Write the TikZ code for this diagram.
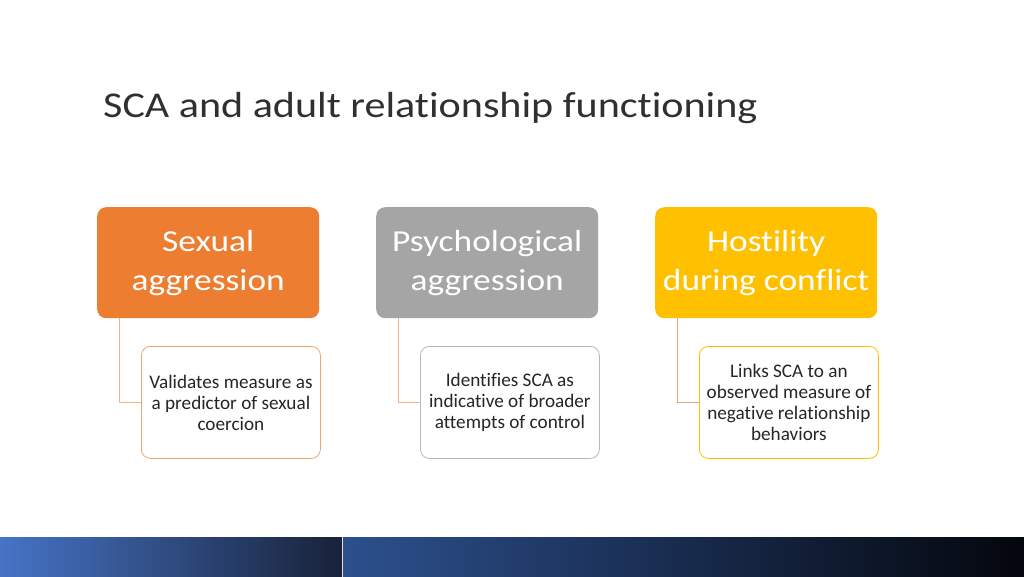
\documentclass[tikz,border=0pt]{standalone}
\usepackage{fontspec}
\setmainfont[Ligatures=NoCommon]{Carlito}
\newfontfamily\widefont[FakeStretch=1.16, Ligatures=NoCommon]{Carlito}
\definecolor{orangeA}{HTML}{ED7D31}
\definecolor{greyA}{HTML}{A5A5A5}
\definecolor{goldA}{HTML}{FFC000}
\definecolor{lineA}{HTML}{F4B183}
\definecolor{titleC}{HTML}{303030}
\definecolor{textC}{HTML}{262626}
\definecolor{barAL}{RGB}{70,116,198}
\definecolor{barAR}{RGB}{24,34,58}
\definecolor{barBL}{RGB}{44,80,142}
\definecolor{barBR}{RGB}{4,6,12}
\begin{document}
\begin{tikzpicture}[x=1pt,y=-1pt,
  headbox/.style={rounded corners=9pt, minimum width=222pt, minimum height=111pt, inner sep=0pt,
    text=white, align=center, font=\widefont\fontsize{30.5}{39}\selectfont, anchor=north west},
  subbox/.style={rounded corners=9pt, fill=white, minimum width=179pt, minimum height=112pt, inner sep=0pt,
    text=textC, align=center, font=\fontsize{19.2}{21}\selectfont, anchor=north west, line width=0.8pt},
  link/.style={draw=lineA, line width=1pt}]
\useasboundingbox (0,0) rectangle (1024,576);
\fill[white] (0,0) rectangle (1024,576);
% title
\node[anchor=base west, inner sep=0pt, text=titleC, font=\widefont\fontsize{36.3}{40}\selectfont] (title) at (103,117) {SCA and adult relationship functioning};
% head boxes
\node[headbox, fill=orangeA] (h1) at (97,207) {Sexual\\aggression};
\node[headbox, fill=greyA] (h2) at (376,207) {Psychological\\aggression};
\node[headbox, fill=goldA] (h3) at (655,207) {Hostility\\during conflict};
% sub boxes
\node[subbox, draw=orangeA!70] (s1) at (141,346) {Validates measure as\\a predictor of sexual\\coercion};
\node[subbox, draw=greyA!80] (s2) at (420,346) {Identifies SCA as\\indicative of broader\\attempts of control};
\node[subbox, draw=goldA] (s3) at (699,346) {Links SCA to an\\observed measure of\\negative relationship\\behaviors};
% connectors
\coordinate (c1) at ([xshift=22pt]h1.south west);
\coordinate (c2) at ([xshift=22pt]h2.south west);
\coordinate (c3) at ([xshift=22pt]h3.south west);
\draw[link] (c1) |- (s1.west);
\draw[link] (c2) |- (s2.west);
\draw[link, draw=lineA!80!brown] (c3) |- (s3.west);
% bottom bar
\shade[left color=barAL, right color=barAR] (0,537) rectangle (342,576);
\shade[left color=barBL, right color=barBR] (343,537) rectangle (1024,576);
\end{tikzpicture}
\end{document}
